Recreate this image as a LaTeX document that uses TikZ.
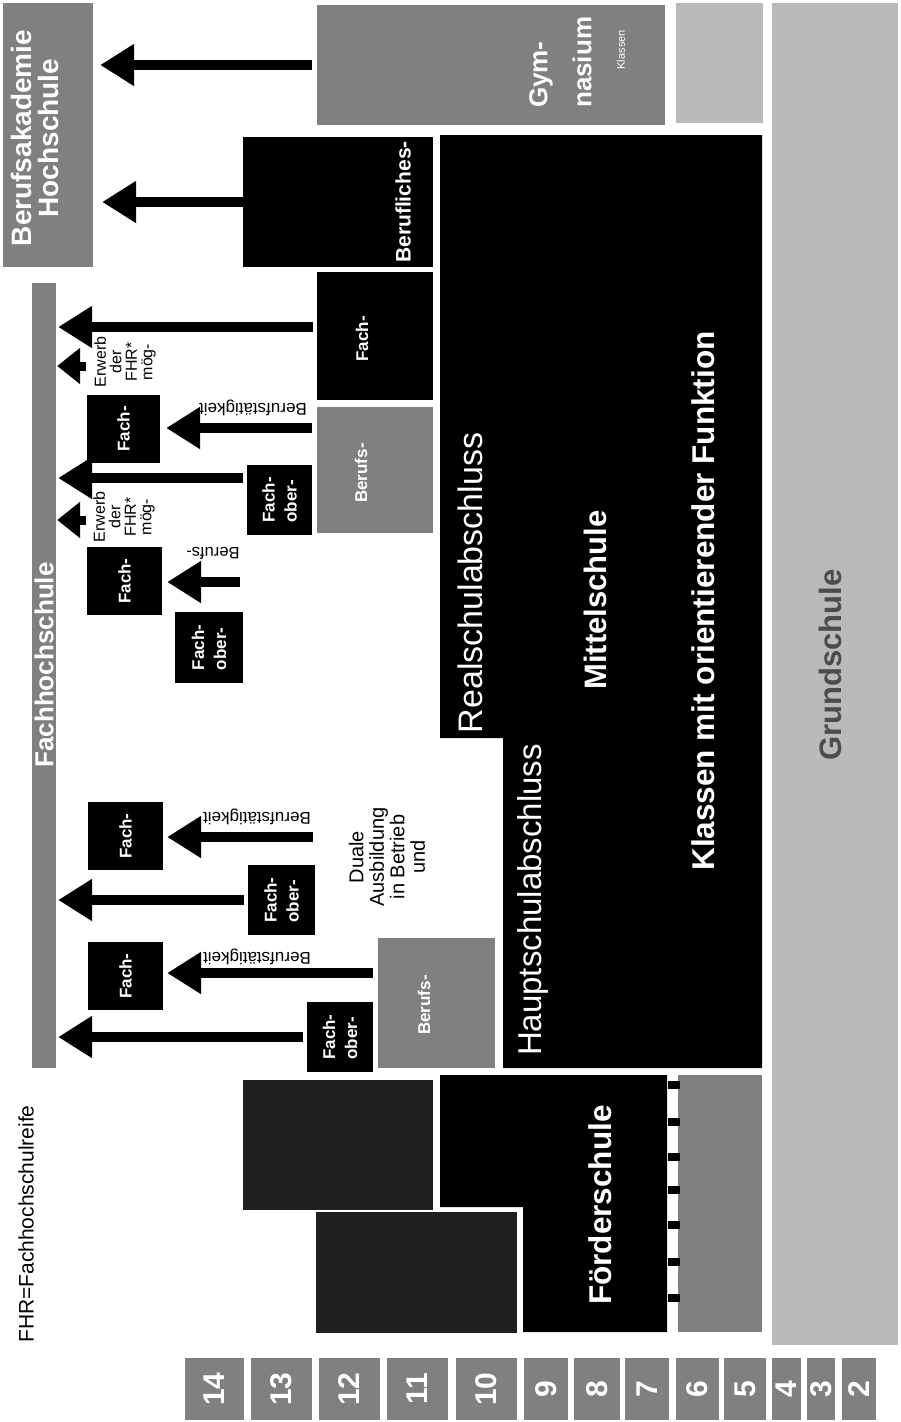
\documentclass[tikz,border=0pt]{standalone}
\usepackage{fontspec}
\setmainfont{Liberation Sans}
\usetikzlibrary{arrows.meta}

\begin{document}
\begin{tikzpicture}[x=1pt, y=-1pt,
    blackbox/.style={fill=black, inner sep=0pt},
    greybox/.style={fill=black!50, inner sep=0pt},
    lightbox/.style={fill=black!27, inner sep=0pt},
    uptext/.style={rotate=90, text=white, inner sep=0pt, align=center,
      font=\bfseries\fontsize{17}{22}\selectfont},
    downtext/.style={rotate=180, inner sep=0pt, font=\fontsize{17}{20}\selectfont},
    sidetext/.style={rotate=90, inner sep=0pt, align=center},
    arrow/.style={line width=10pt, -{Triangle[length=34pt, width=40pt]}},
    stub/.style={line width=9pt, -{Triangle[length=23pt, width=35pt]}}]
  \useasboundingbox (0,0) rectangle (900,1422);

  % Berufsakademie / Hochschule and Gymnasium at the top
  \node[greybox, minimum width=90pt, minimum height=264pt] (bak) at (48,135) {};
  \node[uptext, font=\bfseries\fontsize{28}{27}\selectfont] (bak-t) at (35,138) {Berufsakademie\\Hochschule};
  \node[greybox, minimum width=348pt, minimum height=120pt] (gym) at (491,65) {};
  \node[uptext, anchor=north west, align=left, font=\bfseries\fontsize{26}{44}\selectfont] (gym-t) at (529,108) {Gym-\\nasium};
  \node[uptext, anchor=east, font=\fontsize{11}{12}\selectfont] (gym-k) at (621,30) {Klassen};
  \node[lightbox, minimum width=87pt, minimum height=120pt] (gym-u) at (719.5,63) {};

  % Grundschule column
  \node[lightbox, minimum width=126pt, minimum height=1342pt] (grund) at (835,674) {};
  \node[uptext, text=black!70, font=\bfseries\fontsize{31}{36}\selectfont] (grund-t) at (830,665) {Grundschule};

  % Klassen 5 to 10
  \fill (440,135) -- (762,135) -- (762,1068) -- (503,1068) -- (503,738) -- (440,738) -- cycle;
  \node[uptext, font=\fontsize{34}{40}\selectfont] (real) at (470,583) {Realschulabschluss};
  \node[uptext, font=\fontsize{33}{40}\selectfont] (haupt) at (533,900) {Hauptschulabschluss};
  \node[uptext, font=\bfseries\fontsize{31}{36}\selectfont] (mittel) at (595,600) {Mittelschule};
  \node[uptext, font=\bfseries\fontsize{31.5}{36}\selectfont] (orient) at (703,601) {Klassen mit orientierender Funktion};

  % Foerderschule
  \fill (440,1075) -- (667,1075) -- (667,1332) -- (523,1332) -- (523,1207) -- (440,1207) -- cycle;
  \node[uptext, font=\bfseries\fontsize{31.5}{36}\selectfont] (foerder) at (600,1205) {Förderschule};
  \fill[black!50] (678,1075) rectangle (762,1332);
  \foreach \ty in {1085,1122,1157,1190,1225,1262,1298}
    \fill (668,\ty-4) rectangle (680,\ty+4);
  \fill[black!88] (243,1080) rectangle (433,1210);
  \fill[black!88] (316,1212) rectangle (517,1333);

  % Klassenstufen
  \foreach \lo/\hi/\n in {185/244/14, 251/312/13, 319/380/12, 387/448/11, 456/517/10,
      524/568/9, 574/620/8, 625/669/7, 676/719/6, 724/766/5, 772/801/4, 807/835/3, 842/876/2}
    \fill[black!50] (\lo,1358) rectangle node[uptext, font=\bfseries\fontsize{30}{30}\selectfont] (k\n) {\n} (\hi,1420);
  \node[sidetext, anchor=west, font=\fontsize{21}{24}\selectfont] (fhr) at (26,1343) {FHR=Fachhochschulreife};

  % Fachhochschule bar
  \node[greybox, minimum width=24pt, minimum height=785pt] (fh) at (44,675.5) {};
  \node[uptext, font=\bfseries\fontsize{26}{30}\selectfont] (fh-t) at (44,665) {Fachhochschule};

  % Berufliches Gymnasium and the routes above Klasse 10
  \node[blackbox, minimum width=190pt, minimum height=130pt] (berufl) at (338,202) {};
  \node[uptext, font=\bfseries\fontsize{21}{25}\selectfont] (berufl-t) at (403,202) {Berufliches-};
  \node[blackbox, minimum width=116pt, minimum height=128pt] (fachR) at (375,336) {};
  \node[uptext] (fachR-t) at (362,339) {Fach-};
  \node[greybox, minimum width=116pt, minimum height=126pt] (berufsR) at (375,470) {};
  \node[uptext] (berufsR-t) at (361,473) {Berufs-};
  \node[blackbox, minimum width=73pt, minimum height=68pt] (fachR2) at (123.5,429) {};
  \node[uptext] (fachR2-t) at (fachR2) {Fach-};
  \node[blackbox, minimum width=65pt, minimum height=70pt] (foR1) at (279.5,500) {};
  \node[uptext, align=left] (foR1-t) at (foR1) {Fach-\\ober-};
  \node[blackbox, minimum width=75pt, minimum height=68pt] (fachR3) at (124.5,581) {};
  \node[uptext] (fachR3-t) at (fachR3) {Fach-};
  \node[blackbox, minimum width=68pt, minimum height=71pt] (foR2) at (209,647.5) {};
  \node[uptext, align=left] (foR2-t) at (foR2) {Fach-\\ober-};
  \node[sidetext, font=\fontsize{16}{15.5}\selectfont] (erwerb1) at (125,362) {Erwerb\\der\\FHR*\\mög-};
  \node[sidetext, font=\fontsize{16}{15.5}\selectfont] (erwerb2) at (124,517) {Erwerb\\der\\FHR*\\mög-};
  \node[downtext] (bt1) at (253,408) {Berufstätigkeit};
  \node[downtext, font=\fontsize{16.5}{20}\selectfont] (bs1) at (213,553) {Berufs-};

  % Duale Ausbildung group
  \node[blackbox, minimum width=75pt, minimum height=68pt] (fachL1) at (125.5,836) {};
  \node[uptext] (fachL1-t) at (fachL1) {Fach-};
  \node[blackbox, minimum width=67pt, minimum height=70pt] (foL1) at (281.5,900) {};
  \node[uptext, align=left] (foL1-t) at (foL1) {Fach-\\ober-};
  \node[blackbox, minimum width=75pt, minimum height=68pt] (fachL2) at (125.5,976) {};
  \node[uptext] (fachL2-t) at (fachL2) {Fach-};
  \node[greybox, minimum width=117pt, minimum height=130pt] (berufsL) at (436.5,1003) {};
  \node[uptext] (berufsL-t) at (424,1005) {Berufs-};
  \node[blackbox, minimum width=66pt, minimum height=70pt] (foL2) at (340,1037) {};
  \node[uptext, align=left] (foL2-t) at (foL2) {Fach-\\ober-};
  \node[sidetext, font=\fontsize{20}{20.5}\selectfont] (duale) at (387,857) {Duale\\Ausbildung\\in Betrieb\\und};
  \node[downtext] (bt2) at (257,817) {Berufstätigkeit};
  \node[downtext] (bt3) at (257,957) {Berufstätigkeit};

  % Arrows
  \draw[arrow, shorten <=5pt, shorten >=7pt] (gym.west) -- (gym.west -| bak.east);
  \draw[arrow, shorten >=9pt] (berufl.west) -- (berufl.west -| bak.east);
  \coordinate (aR1) at (313,327);
  \draw[arrow, shorten >=2pt] (aR1) -- (aR1 -| fh.east);
  \coordinate (aR2) at (312,428);
  \draw[arrow, shorten >=6pt] (aR2) -- (aR2 -| fachR2.east);
  \coordinate (aR3) at (243,478);
  \draw[arrow, shorten >=2pt] (aR3) -- (aR3 -| fh.east);
  \coordinate (aR4) at (240,582);
  \draw[arrow, shorten >=5pt] (aR4) -- (aR4 -| fachR3.east);
  \coordinate (sR1) at (86,366);
  \draw[stub, shorten >=1pt] (sR1) -- (sR1 -| fh.east);
  \coordinate (sR2) at (86,520);
  \draw[stub, shorten >=1pt] (sR2) -- (sR2 -| fh.east);
  \coordinate (aL1) at (313,837);
  \draw[arrow, shorten >=4pt] (aL1) -- (aL1 -| fachL1.east);
  \draw[arrow, shorten <=4pt, shorten >=2pt] (foL1.west) -- (foL1.west -| fh.east);
  \coordinate (aL2) at (373,973);
  \draw[arrow, shorten >=4pt] (aL2) -- (aL2 -| fachL2.east);
  \draw[arrow, shorten <=4pt, shorten >=2pt] (foL2.west) -- (foL2.west -| fh.east);
\end{tikzpicture}
\end{document}
